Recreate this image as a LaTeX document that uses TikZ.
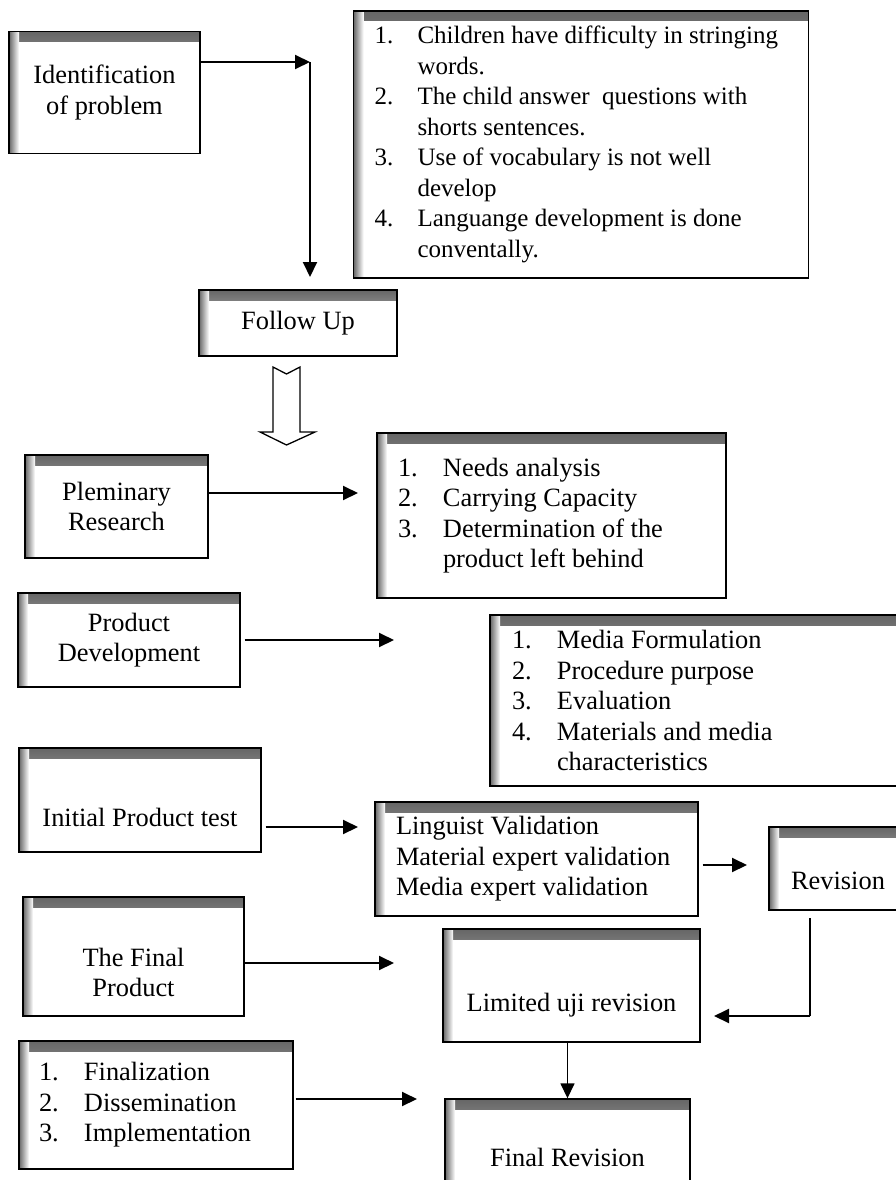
\documentclass[tikz,border=0pt]{standalone}
\usepackage{fontspec}
\setmainfont{Liberation Serif}
\usetikzlibrary{arrows.meta}
\tikzset{
  shadowbox/.style={draw,line width=1.4pt,fill=white,
    path picture={
      \shade[top color=black!60,bottom color=white]
        (path picture bounding box.north west) rectangle
        ([yshift=-10pt]path picture bounding box.north east);
      \shade[left color=black!60,right color=white]
        (path picture bounding box.north west) rectangle
        ([xshift=10pt]path picture bounding box.south west);
    }},
  listbox/.style={shadowbox,align=flush left},
  flow/.style={line width=2pt}
}
\newcommand{\itm}[2][45pt]{\makebox[#1][l]{#2}}
\newcommand{\gap}[1][45pt]{\hspace*{#1}}
\begin{document}
\begin{tikzpicture}[x=1pt,y=-1pt,>={Triangle[length=15pt,width=14pt]},
    every node/.style={font=\fontsize{26.4}{30.5}\selectfont}]
    \useasboundingbox (0,0) rectangle (896,1180);
    % --- problem and follow up ---
    \node[shadowbox,minimum width=191pt,minimum height=122pt,align=center]
      (ident) at (104.5,92.5) {Identification\\of problem};
    \node[listbox,minimum width=455pt,minimum height=267pt,inner xsep=21pt,
      text width=413pt,font=\fontsize{25}{30.5}\selectfont] (probs) at (581,144.5)
      {\itm[43pt]{1.}\mbox{Children have difficulty in stringing}\\\gap[43pt]words.\\
       \itm[43pt]{2.}\mbox{The child answer~ questions with}\\\gap[43pt]shorts sentences.\\
       \itm[43pt]{3.}Use of vocabulary is not well\\\gap[43pt]develop\\
       \itm[43pt]{4.}Languange development is done\\\gap[43pt]conventally.};
    \node[shadowbox,minimum width=198pt,minimum height=66pt]
      (follow) at (298,323) {Follow Up};
    \coordinate (c1) at (310,62);
    \coordinate (c2) at (310,277);
    \draw[flow,->] (ident.east |- c1) -- (c1);
    \draw[flow,->] (c1) -- (c2);
    % hollow arrow below follow up
    \draw[line width=1.3pt] (273,367) -- (286.5,374) -- (300,367) -- (300,432)
      -- (315,432) -- (286.5,445) -- (260,432) -- (273,432) -- cycle;
    % --- research and development ---
    \node[shadowbox,minimum width=183pt,minimum height=103pt,align=center]
      (prelim) at (116.5,506.5) {Pleminary\\Research};
    \node[listbox,minimum width=349pt,minimum height=165pt,inner xsep=21pt,
      text width=307pt] (needs) at (551.5,515.5)
      {\itm{1.}Needs analysis\\\itm{2.}Carrying Capacity\\
       \itm{3.}Determination of the\\\gap product left behind};
    \node[shadowbox,minimum width=222pt,minimum height=94pt,align=center]
      (prodev) at (129,640) {Product\\Development};
    \node[listbox,minimum width=420pt,minimum height=171pt,inner xsep=22pt,
      text width=376pt] (media) at (700,700.5)
      {\itm{1.}Media Formulation\\\itm{2.}Procedure purpose\\
       \itm{3.}Evaluation\\\itm{4.}Materials and media\\\gap characteristics};
    \coordinate (t2) at (358,493);
    \coordinate (t3) at (394,640);
    \draw[flow,->] (prelim.east |- t2) -- (t2);
    \draw[flow,->] ([xshift=4pt]prodev.east) -- (t3);
    % --- test and revision ---
    \node[shadowbox,minimum width=242pt,minimum height=104pt,text height=52pt,
      text depth=0pt] (initial) at (140,800) {Initial Product test};
    \node[listbox,minimum width=323pt,minimum height=114pt,inner xsep=21pt,
      text width=281pt] (valid) at (536.5,859)
      {Linguist Validation\\\mbox{Material expert validation}\\Media expert validation};
    \node[shadowbox,minimum width=138pt,minimum height=83pt,text height=41pt,
      text depth=0pt] (revis) at (838,868.5) {Revision};
    \node[shadowbox,minimum width=221pt,minimum height=119pt,align=center]
      (finalp) at (133.5,956.5) {\rule{0pt}{50pt}The Final\\Product};
    \node[shadowbox,minimum width=257pt,minimum height=113pt,text height=51pt,
      text depth=0pt] (limited) at (571.5,985.5) {Limited uji revision};
    \node[listbox,minimum width=274pt,minimum height=128pt,inner xsep=20pt,
      text width=234pt] (finz) at (156,1105)
      {\itm{1.}Finalization\\\itm{2.}Dissemination\\\itm{3.}Implementation};
    \node[shadowbox,minimum width=245pt,minimum height=116pt]
      (finrev) at (567.5,1157) {Final Revision};
    \coordinate (t4) at (358,827);
    \coordinate (t5) at (747,865);
    \coordinate (r1) at (810,918);
    \coordinate (r2) at (810,1016);
    \coordinate (t6) at (714,1016);
    \coordinate (t7) at (394,963);
    \coordinate (t8) at (417,1099);
    \draw[flow,->] ([xshift=4pt]initial.east |- t4) -- (t4);
    \draw[flow,->] ([xshift=4pt]valid.east |- t5) -- (t5);
    \draw[line width=1.5pt] (r1) -- (r2);
    \draw[flow,->] (r2) -- (t6);
    \draw[flow,->] (finalp.east |- t7) -- (t7);
    \draw[line width=1.5pt,->] (finrev.north |- limited.south) -- (finrev.north);
    \draw[flow,->] ([xshift=2pt]finz.east |- t8) -- (t8);
\end{tikzpicture}
\end{document}
